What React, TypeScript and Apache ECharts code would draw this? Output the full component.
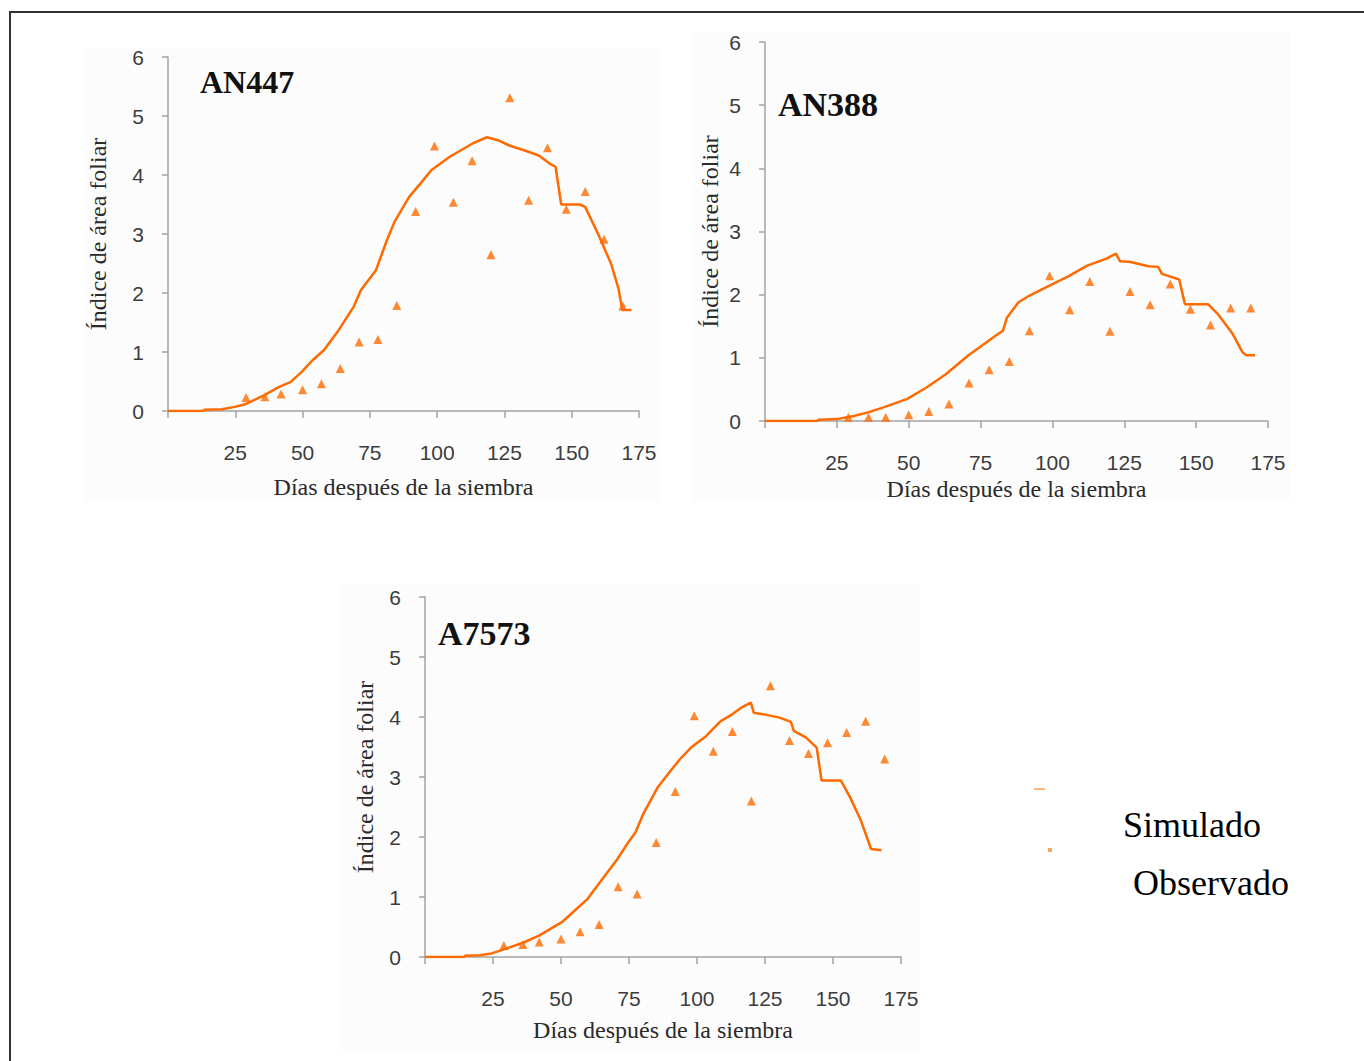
import React, { useEffect, useRef } from "react";
import * as echarts from "echarts";

// ---------- data ----------
const obsDays = [29, 36, 42, 50, 57, 64, 71, 78, 85, 92, 99, 106, 113, 120, 127, 134, 141, 148, 155, 162, 169];

const simAN447Days = [0, 13, 13.5, 20, 24.8, 29, 35.8, 41.3, 45.5, 49.6, 53.7, 57.9, 63.4, 68.9, 71.7, 77.2, 81.3, 84.1, 89.6, 93.7, 97.8, 104.7, 113, 118.5, 122.6, 126.8, 132.3, 137.8, 141.9, 144, 146.1, 153, 155, 159.8, 164.6, 167.4, 168.8, 172.2];
const simAN447Vals = [0, 0, 0.02, 0.03, 0.07, 0.12, 0.27, 0.41, 0.49, 0.66, 0.86, 1.03, 1.37, 1.76, 2.05, 2.38, 2.89, 3.2, 3.63, 3.85, 4.08, 4.31, 4.53, 4.64, 4.59, 4.5, 4.42, 4.33, 4.19, 4.14, 3.5, 3.5, 3.46, 3.0, 2.5, 2.07, 1.71, 1.71];
const obsAN447Vals = [0.23, 0.24, 0.29, 0.36, 0.46, 0.72, 1.17, 1.21, 1.79, 3.38, 4.49, 3.54, 4.24, 2.65, 5.31, 3.57, 4.46, 3.42, 3.72, 2.91, 1.78];

const simAN388Days = [0, 18.2, 18.6, 24.9, 30.9, 36.2, 41.5, 49.5, 56.2, 62.9, 70.8, 74.8, 80.2, 82.8, 84.2, 88.2, 92.2, 98.8, 105.5, 112.1, 118.8, 122.1, 123.5, 126.8, 133.4, 136.8, 138.1, 144.1, 146.1, 154.1, 157.4, 162.7, 166.1, 167.4, 170.5];
const simAN388Vals = [0, 0, 0.02, 0.03, 0.08, 0.14, 0.22, 0.35, 0.53, 0.74, 1.04, 1.17, 1.35, 1.43, 1.64, 1.88, 1.99, 2.14, 2.29, 2.46, 2.57, 2.65, 2.53, 2.52, 2.45, 2.44, 2.33, 2.24, 1.85, 1.85, 1.7, 1.38, 1.09, 1.04, 1.04];
const obsAN388Vals = [0.06, 0.06, 0.06, 0.1, 0.15, 0.27, 0.6, 0.81, 0.94, 1.43, 2.3, 1.76, 2.21, 1.42, 2.05, 1.84, 2.17, 1.77, 1.52, 1.79, 1.79];

const simA7573Days = [0, 14.3, 14.7, 20, 24.5, 29.9, 36.7, 42.1, 50.3, 55.7, 59.8, 63.9, 70.7, 74.7, 77.4, 80.2, 85.6, 89.7, 93.8, 97.8, 103.3, 108.7, 112.8, 116.8, 119.8, 120.9, 125, 130.4, 134.5, 135.6, 140, 144, 145.8, 152.9, 156.3, 160.3, 164, 167.8];
const simA7573Vals = [0, 0, 0.02, 0.03, 0.06, 0.14, 0.25, 0.36, 0.58, 0.8, 0.97, 1.22, 1.63, 1.91, 2.08, 2.38, 2.83, 3.07, 3.3, 3.49, 3.68, 3.93, 4.04, 4.17, 4.24, 4.07, 4.04, 3.99, 3.92, 3.77, 3.66, 3.49, 2.94, 2.94, 2.66, 2.27, 1.8, 1.78];
const obsA7573Vals = [0.19, 0.21, 0.25, 0.3, 0.42, 0.54, 1.17, 1.05, 1.91, 2.76, 4.02, 3.43, 3.76, 2.6, 4.52, 3.61, 3.39, 3.57, 3.74, 3.93, 3.3];

const chartTitles = ["AN447", "AN388", "A7573"];
const xTitle = "Días después de la siembra";
const yTitle = "Índice de área foliar";
const legendNames = ["Simulado", "Observado"];

const ORANGE = "#ff6a00";

const pairs = (xs: number[], ys: number[]) => xs.map((x, i) => [x, ys[i]]);

const grids = [
  { left: 168, top: 57, width: 471, height: 354, xGap: 64, yGap: 58 },
  { left: 765, top: 42, width: 503, height: 379, xGap: 56, yGap: 43 },
  { left: 425, top: 597, width: 476, height: 360, xGap: 61, yGap: 48 },
];

export default function App() {
  const ref = useRef<HTMLDivElement>(null);
  useEffect(() => {
    if (!ref.current) return;
    const chart = echarts.init(ref.current, null, { renderer: "svg" });
    const axisLine = { lineStyle: { color: "#a3a3a3", width: 1.5 } };
    const labelStyle = { color: "#3c3c3c", fontFamily: "Liberation Sans", fontSize: 21 };
    const nameStyle = { color: "#2a2a2a", fontFamily: "Liberation Serif", fontSize: 24 };
    const xAxes = grids.map((g, i) => ({
      type: "value",
      gridIndex: i,
      min: 0,
      max: 175,
      interval: 25,
      axisLine,
      axisTick: { show: true, length: 7, lineStyle: { color: "#a3a3a3", width: 1.5 } },
      splitLine: { show: false },
      axisLabel: { ...labelStyle, margin: 31, formatter: (v: number) => (v === 0 ? "" : String(v)) },
      name: xTitle,
      nameLocation: "middle",
      nameGap: g.xGap,
      nameTextStyle: nameStyle,
    }));
    const yAxes = grids.map((g, i) => ({
      type: "value",
      gridIndex: i,
      min: 0,
      max: 6,
      interval: 1,
      axisLine: { show: true, ...axisLine },
      axisTick: { show: true, length: 6, lineStyle: { color: "#a3a3a3", width: 1.5 } },
      splitLine: { show: false },
      axisLabel: { ...labelStyle, margin: 24 },
      name: yTitle,
      nameLocation: "middle",
      nameGap: g.yGap,
      nameTextStyle: nameStyle,
    }));
    const sims = [
      pairs(simAN447Days, simAN447Vals),
      pairs(simAN388Days, simAN388Vals),
      pairs(simA7573Days, simA7573Vals),
    ];
    const obs = [
      pairs(obsDays, obsAN447Vals),
      pairs(obsDays, obsAN388Vals),
      pairs(obsDays, obsA7573Vals),
    ];
    const series: any[] = [];
    for (let i = 0; i < 3; i++) {
      series.push({
        type: "line",
        name: legendNames[0],
        xAxisIndex: i,
        yAxisIndex: i,
        data: sims[i],
        showSymbol: false,
        lineStyle: { color: ORANGE, width: 2.5 },
        itemStyle: { color: ORANGE },
        z: 2,
      });
      series.push({
        type: "scatter",
        name: legendNames[1],
        xAxisIndex: i,
        yAxisIndex: i,
        data: obs[i],
        symbol: "triangle",
        symbolSize: 9,
        itemStyle: { color: ORANGE },
        z: 3,
      });
    }
    const titleFont = "Liberation Serif";
    chart.setOption({
      animation: false,
      backgroundColor: "#ffffff",
      grid: grids.map((g) => ({ left: g.left, top: g.top, width: g.width, height: g.height, containLabel: false })),
      xAxis: xAxes,
      yAxis: yAxes,
      series,
      graphic: [
        { type: "rect", z: -10, shape: { x: 85, y: 48, width: 575, height: 452 }, style: { fill: "#fcfcfc" } },
        { type: "rect", z: -10, shape: { x: 693, y: 33, width: 597, height: 467 }, style: { fill: "#fcfcfc" } },
        { type: "rect", z: -10, shape: { x: 340, y: 585, width: 580, height: 465 }, style: { fill: "#fcfcfc" } },
        { type: "rect", z: 10, shape: { x: 10, y: 12, width: 1400, height: 1100 }, style: { fill: "none", stroke: "#333", lineWidth: 2 } },
        { type: "text", x: 200, y: 82, style: { text: chartTitles[0], font: `bold 32px ${titleFont}`, fill: "#111", verticalAlign: "middle" } },
        { type: "text", x: 778, y: 104, style: { text: chartTitles[1], font: `bold 34px ${titleFont}`, fill: "#111", verticalAlign: "middle" } },
        { type: "text", x: 438, y: 633, style: { text: chartTitles[2], font: `bold 34px ${titleFont}`, fill: "#111", verticalAlign: "middle" } },
        { type: "line", shape: { x1: 1034, y1: 789, x2: 1045, y2: 789 }, style: { stroke: "#f5a050", lineWidth: 1.5 } },
        { type: "rect", shape: { x: 1048, y: 848, width: 4, height: 4 }, style: { fill: "#f2a860" } },
        { type: "text", x: 1123, y: 825, style: { text: legendNames[0], font: `36px ${titleFont}`, fill: "#000", verticalAlign: "middle" } },
        { type: "text", x: 1133, y: 883, style: { text: legendNames[1], font: `36px ${titleFont}`, fill: "#000", verticalAlign: "middle" } },
      ],
    });
    return () => chart.dispose();
  }, []);
  return (
    <div
      ref={ref}
      style={{ position: "fixed", left: 0, top: 0, width: 1364, height: 1061, background: "#fff" }}
    />
  );
}
